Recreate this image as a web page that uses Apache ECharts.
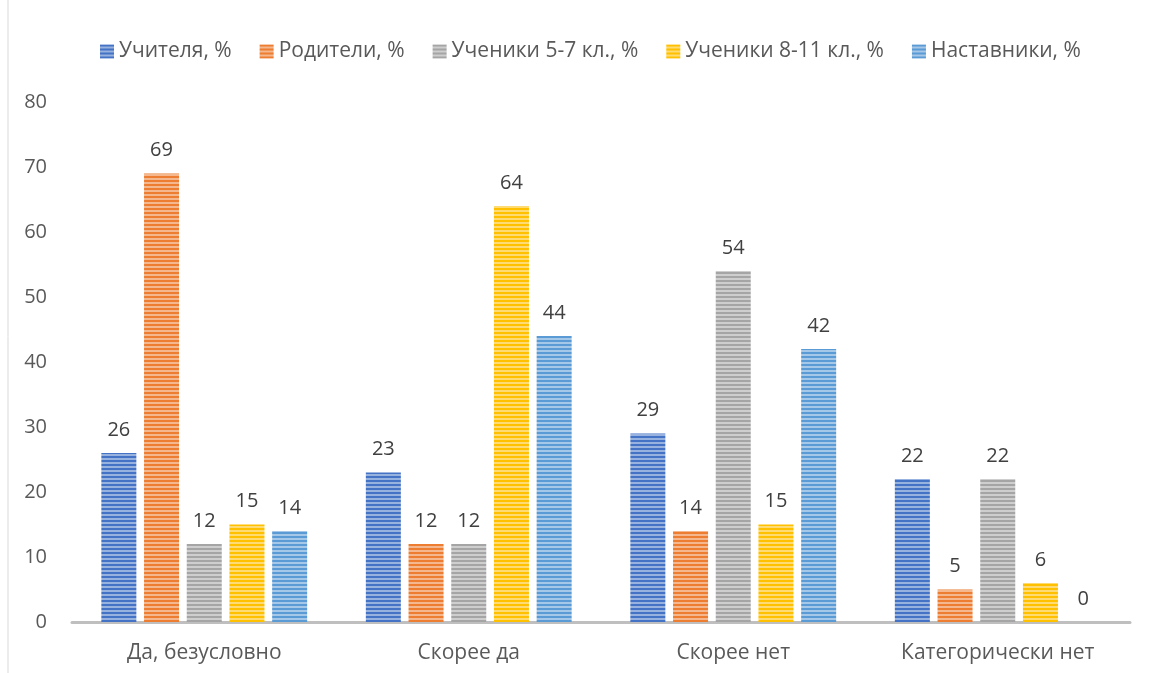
<!DOCTYPE html>
<html><head><meta charset="utf-8">
<script src="https://cdn.jsdelivr.net/npm/echarts@6/dist/echarts.min.js"></script>
<style>html,body{margin:0;padding:0;background:#fff}#c{width:1150px;height:673px}</style>
</head><body><div id="c"></div>
<script>
const categories = ['Да, безусловно', 'Скорее да', 'Скорее нет', 'Категорически нет'];
const seriesNames = ['Учителя, %', 'Родители, %', 'Ученики 5-7 кл., %', 'Ученики 8-11 кл., %', 'Наставники, %'];
const teachers = [26, 23, 29, 22];
const parents = [69, 12, 14, 5];
const pupils57 = [12, 12, 54, 22];
const pupils811 = [15, 64, 15, 6];
const mentors = [14, 44, 42, 0];
const yTicks = [0, 10, 20, 30, 40, 50, 60, 70, 80];

const baseColors = ['#4472C4', '#ED7D31', '#A5A5A5', '#FFC000', '#5B9BD5'];
function stripe(col) {
  const cv = document.createElement('canvas');
  cv.width = 8; cv.height = 4;
  const ctx = cv.getContext('2d');
  ctx.fillStyle = '#ffffff'; ctx.fillRect(0, 0, 8, 4);
  ctx.globalAlpha = 0.55; ctx.fillStyle = col; ctx.fillRect(0, 0, 8, 4);
  ctx.globalAlpha = 1; ctx.fillStyle = col; ctx.fillRect(0, 0, 8, 2);
  return { image: cv, repeat: 'repeat' };
}
const allData = [teachers, parents, pupils57, pupils811, mentors];
const chart = echarts.init(document.getElementById('c'));
chart.setOption({
  animation: false,
  backgroundColor: '#fff',
  graphic: [{ type: 'rect', shape: { x: 8, y: -2, width: 1160, height: 700 }, style: { fill: 'none', stroke: '#d9d9d9', lineWidth: 1 } }],
  legend: {
    top: 36, left: 95, itemWidth: 14, itemHeight: 14, itemGap: 28,
    textStyle: { fontFamily: 'Open Sans', fontSize: 21, color: '#595959' },
    data: seriesNames.map((n, i) => ({ name: n, icon: 'rect', itemStyle: { color: stripe(baseColors[i]) } }))
  },
  grid: { left: 72, right: 20, top: 102, bottom: 51 },
  xAxis: {
    type: 'category', data: categories,
    axisLine: { lineStyle: { color: '#bfbfbf', width: 3 } },
    axisTick: { show: false },
    axisLabel: { fontFamily: 'Open Sans', fontSize: 21, color: '#595959', margin: 21 }
  },
  yAxis: {
    type: 'value', min: yTicks[0], max: yTicks[yTicks.length - 1], interval: 10,
    axisLine: { show: false }, axisTick: { show: false }, splitLine: { show: false },
    axisLabel: { fontFamily: 'Open Sans', fontSize: 20, color: '#595959', margin: 25 }
  },
  series: seriesNames.map((n, i) => ({
    name: n, type: 'bar', data: allData[i],
    barWidth: 35, barGap: '22%',
    itemStyle: { color: stripe(baseColors[i]) },
    label: { show: true, position: 'top', distance: 13, fontFamily: 'Open Sans', fontSize: 20, color: '#404040' }
  }))
});
</script></body></html>
